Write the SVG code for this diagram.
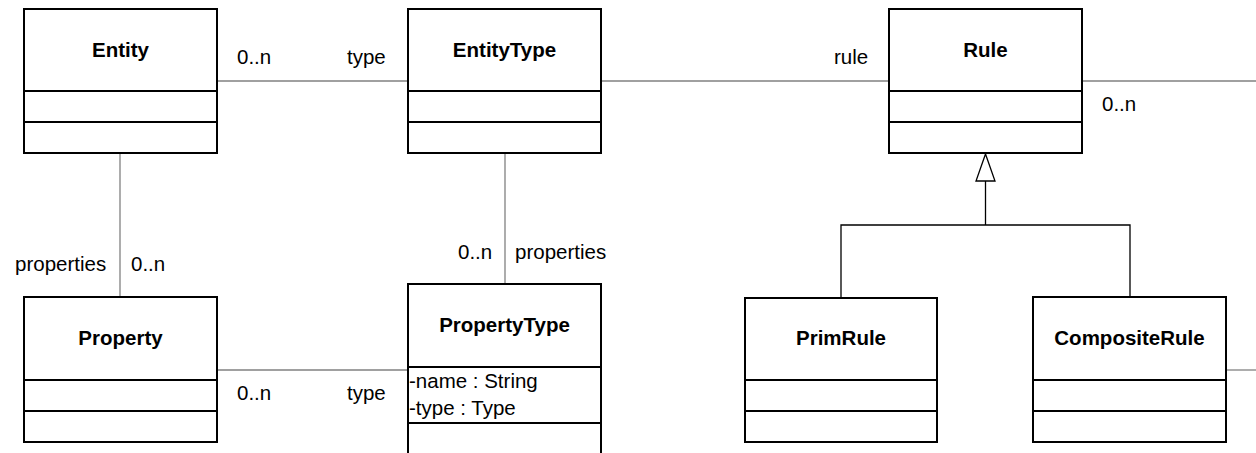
<svg xmlns="http://www.w3.org/2000/svg" width="1256" height="453" viewBox="0 0 1256 453">
<style>
.box{fill:#fff;stroke:#000;stroke-width:2}
.div{stroke:#000;stroke-width:2}
.assoc{stroke:#808080;stroke-width:1.3;fill:none}
.gen{stroke:#000;stroke-width:1.3;fill:none}
.title{font-family:"Liberation Sans",Arial,sans-serif;font-size:20.5px;font-weight:bold;text-anchor:middle;fill:#000}
.lbl{font-family:"Liberation Sans",Arial,sans-serif;font-size:20.5px;fill:#000}
</style>
<g id="connectors">
<line class="assoc" x1="217" y1="81" x2="408" y2="81"/>
<line class="assoc" x1="601" y1="81" x2="889" y2="81"/>
<line class="assoc" x1="1082" y1="81" x2="1256" y2="81"/>
<line class="assoc" x1="120" y1="153" x2="120" y2="297"/>
<line class="assoc" x1="505" y1="153" x2="505" y2="284"/>
<line class="assoc" x1="217" y1="370" x2="408" y2="370"/>
<line class="assoc" x1="1226" y1="370" x2="1256" y2="370"/>
<polyline class="gen" points="841,298 841,225 1130,225 1130,297"/>
<line class="gen" x1="985.5" y1="225" x2="985.5" y2="181"/>
<polygon class="gen" fill="#fff" style="fill:#fff" points="985.5,154 976,181 995,181"/>
<text class="lbl" x="237" y="64">0..n</text>
<text class="lbl" x="347" y="64">type</text>
<text class="lbl" x="834" y="64">rule</text>
<text class="lbl" x="1102" y="111">0..n</text>
<text class="lbl" x="15" y="271">properties</text>
<text class="lbl" x="131" y="271">0..n</text>
<text class="lbl" x="458" y="259">0..n</text>
<text class="lbl" x="515" y="259">properties</text>
<text class="lbl" x="237" y="400">0..n</text>
<text class="lbl" x="347" y="400">type</text>
</g>
<g id="Entity">
<rect class="box" x="24" y="9" width="193" height="144"/>
<line class="div" x1="24" y1="91" x2="217" y2="91"/>
<line class="div" x1="24" y1="122" x2="217" y2="122"/>
<text class="title" x="120.5" y="57">Entity</text>
</g>
<g id="EntityType">
<rect class="box" x="408" y="9" width="193" height="144"/>
<line class="div" x1="408" y1="91" x2="601" y2="91"/>
<line class="div" x1="408" y1="122" x2="601" y2="122"/>
<text class="title" x="504.5" y="57">EntityType</text>
</g>
<g id="Rule">
<rect class="box" x="889" y="9" width="193" height="144"/>
<line class="div" x1="889" y1="91" x2="1082" y2="91"/>
<line class="div" x1="889" y1="122" x2="1082" y2="122"/>
<text class="title" x="985.5" y="57">Rule</text>
</g>
<g id="Property">
<rect class="box" x="24" y="297" width="193" height="145"/>
<line class="div" x1="24" y1="380" x2="217" y2="380"/>
<line class="div" x1="24" y1="411" x2="217" y2="411"/>
<text class="title" x="120.5" y="345">Property</text>
</g>
<g id="PropertyType">
<rect class="box" x="408" y="284" width="193" height="190"/>
<line class="div" x1="408" y1="367" x2="601" y2="367"/>
<line class="div" x1="408" y1="423" x2="601" y2="423"/>
<text class="title" x="504.5" y="332">PropertyType</text>
<text class="lbl" x="409" y="388">-name : String</text>
<text class="lbl" x="409" y="415">-type : Type</text>
</g>
<g id="PrimRule">
<rect class="box" x="745" y="298" width="192" height="144"/>
<line class="div" x1="745" y1="380" x2="937" y2="380"/>
<line class="div" x1="745" y1="411" x2="937" y2="411"/>
<text class="title" x="841" y="345">PrimRule</text>
</g>
<g id="CompositeRule">
<rect class="box" x="1033" y="297" width="193" height="145"/>
<line class="div" x1="1033" y1="380" x2="1226" y2="380"/>
<line class="div" x1="1033" y1="411" x2="1226" y2="411"/>
<text class="title" x="1129.5" y="345">CompositeRule</text>
</g>
</svg>
